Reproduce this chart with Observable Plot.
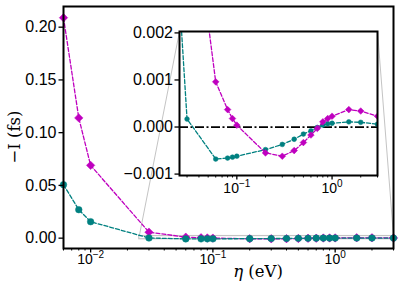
<!DOCTYPE html>
<html><head><meta charset="utf-8">
<script src="https://cdn.jsdelivr.net/npm/d3@7"></script>
<script src="https://cdn.jsdelivr.net/npm/@observablehq/plot@0.6"></script>
<style>
body{margin:0;background:#fff;}
#c{position:relative;width:399px;height:282px;}
#c svg{position:absolute;left:0;top:0;overflow:visible;}
</style></head><body><div id="c"></div>
<script>
// ---- data ----
const eta = [0.006,0.008,0.01,0.03,0.06,0.08,0.09,0.1,0.2,0.3,0.4,0.5,0.6,0.7,0.8,0.9,1.0,1.5,2,3];
const magentaVals = [0.209,0.114,0.069,0.0057,0.00096,0.00037,0.00018,0.00004,-0.00055,-0.00062,-0.0005,-0.00033,-0.00017,-0.00003,0.00011,0.00018,0.00023,0.00037,0.00034,0.00023];
const tealVals = [0.0507,0.027,0.0156,0.00017,-0.00068,-0.00066,-0.00064,-0.00062,-0.00048,-0.00037,-0.00026,-0.00015,-0.00008,-0.00001,0.00004,0.00007,0.00008,0.00011,0.0001,0.00006];
const mainYTicks = [0,0.05,0.10,0.15,0.20];
const mainXTicks = [0.01,0.1,1];
const mainXMinor = [0.006,0.007,0.008,0.009,0.02,0.03,0.04,0.05,0.06,0.07,0.08,0.09,0.2,0.3,0.4,0.5,0.6,0.7,0.8,0.9,2,3];
const insetYTicks = [-0.001,0,0.001,0.002];
const insetXTicks = [0.1,1];
const insetXMinor = [0.03,0.04,0.05,0.06,0.07,0.08,0.09,0.2,0.3,0.4,0.5,0.6,0.7,0.8,0.9,2,3];
const zoomBox = {x1:0.025, x2:3, y1:-0.001, y2:0.002};
const xLabel = "η";
const xUnit = " (eV)";
const yLabel = "−I (fs)";

// ---- layout ----
const W = 399, H = 282;
const MAG = "#bf00bf", TEAL = "#008080", GRAY = "#c4c4c4";
const mainMargin = {left:63, right:6, top:6, bottom:34};
const insetMargin = {left:179, right:W-377, top:31, bottom:H-175};
const mainXDomain = [0.006, 3], mainYDomain = [-0.0098, 0.2196];
const insetXDomain = [zoomBox.x1, zoomBox.x2], insetYDomain = [-0.00103, 0.00203];

const rows = eta.map((e,i)=>({eta:e, m:magentaVals[i], t:tealVals[i]}));

const sxMain = Plot.scale({x:{type:"log", domain:mainXDomain, range:[mainMargin.left, W-mainMargin.right]}});
const syMain = Plot.scale({y:{type:"linear", domain:mainYDomain, range:[H-mainMargin.bottom, mainMargin.top]}});
const sxIn = Plot.scale({x:{type:"log", domain:insetXDomain, range:[insetMargin.left, W-insetMargin.right]}});
const syIn = Plot.scale({y:{type:"linear", domain:insetYDomain, range:[H-insetMargin.bottom, insetMargin.top]}});

// connectors: inset top corners -> box top corners
const insetTop = syIn.apply(insetYDomain[1]);
const connectors = [
  {x1: zoomBox.x1, y1: zoomBox.y2, x2: sxMain.invert(sxIn.apply(insetXDomain[0])), y2: syMain.invert(insetTop)},
  {x1: zoomBox.x2, y1: zoomBox.y2, x2: sxMain.invert(sxIn.apply(insetXDomain[1])), y2: syMain.invert(insetTop)}
];

const expFmt = d => "10^" + Math.round(Math.log10(d));
const style = {background:"transparent", fontFamily:"'Liberation Sans', Arial, sans-serif", fontSize:"16px", overflow:"visible", color:"black"};
const dash = "4,2";

const main = Plot.plot({
  width:W, height:H,
  marginLeft:mainMargin.left, marginRight:mainMargin.right, marginTop:mainMargin.top, marginBottom:mainMargin.bottom,
  x:{type:"log", domain:mainXDomain},
  y:{domain:mainYDomain},
  style,
  marks:[
    Plot.rect([zoomBox], {x1:"x1", x2:"x2", y1:"y1", y2:"y2", fill:"none", stroke:GRAY, strokeWidth:1.2}),
    Plot.link(connectors, {x1:"x1", y1:"y1", x2:"x2", y2:"y2", stroke:GRAY, strokeWidth:1}),
    Plot.line(rows, {x:"eta", y:"m", stroke:MAG, strokeWidth:1.3, strokeDasharray:dash}),
    Plot.dot(rows, {x:"eta", y:"m", symbol:"diamond2", r:3.8, fill:MAG, stroke:MAG, strokeWidth:0.5}),
    Plot.line(rows, {x:"eta", y:"t", stroke:TEAL, strokeWidth:1.3, strokeDasharray:dash}),
    Plot.dot(rows, {x:"eta", y:"t", symbol:"circle", r:3.3, fill:TEAL, stroke:TEAL, strokeWidth:0.5}),
    Plot.axisY(mainYTicks, {anchor:"left", tickSize:4.5, tickPadding:2.5, tickFormat:d3.format(".2f"), fontSize:16, label:null, strokeWidth:1.3}),
    Plot.axisX(mainXTicks, {anchor:"bottom", tickSize:4.5, tickPadding:1.5, tickFormat:expFmt, fontSize:14, label:null, strokeWidth:1.3}),
    Plot.axisX(mainXMinor, {anchor:"bottom", tickSize:2.5, tickFormat:()=>"", label:null, strokeWidth:1}),
    Plot.frame({stroke:"black", strokeWidth:2})
  ]
});

const inset = Plot.plot({
  width:W, height:H,
  marginLeft:insetMargin.left, marginRight:insetMargin.right, marginTop:insetMargin.top, marginBottom:insetMargin.bottom,
  x:{type:"log", domain:insetXDomain},
  y:{domain:insetYDomain},
  style,
  marks:[
    Plot.frame({fill:"white", stroke:null}),
    Plot.ruleY([0], {stroke:"black", strokeWidth:1.8, strokeDasharray:"9,2.5,2,2.5"}),
    Plot.line(rows, {x:"eta", y:"t", stroke:TEAL, strokeWidth:1.3, strokeDasharray:dash, clip:true}),
    Plot.dot(rows, {x:"eta", y:"t", symbol:"circle", r:2.4, fill:TEAL, stroke:TEAL, strokeWidth:0.5, clip:true}),
    Plot.line(rows, {x:"eta", y:"m", stroke:MAG, strokeWidth:1.3, strokeDasharray:dash, clip:true}),
    Plot.dot(rows, {x:"eta", y:"m", symbol:"diamond2", r:3.0, fill:MAG, stroke:MAG, strokeWidth:0.5, clip:true}),
    Plot.axisY(insetYTicks, {anchor:"left", tickSize:4.5, tickPadding:2, tickFormat:d3.format(".3f"), fontSize:16, label:null, strokeWidth:1.3}),
    Plot.axisX(insetXTicks, {anchor:"bottom", tickSize:4.5, tickPadding:3, tickFormat:expFmt, fontSize:14, label:null, strokeWidth:1.3}),
    Plot.axisX(insetXMinor, {anchor:"bottom", tickSize:2.5, tickFormat:()=>"", label:null, strokeWidth:1}),
    Plot.frame({stroke:"black", strokeWidth:2})
  ]
});

const NS = "http://www.w3.org/2000/svg";
function superscripts(svg){
  svg.querySelectorAll("text").forEach(t => {
    const s = t.textContent;
    if (!s.includes("^")) return;
    const [b, e] = s.split("^");
    while (t.firstChild) t.removeChild(t.firstChild);
    const tb = document.createElementNS(NS, "tspan"); tb.textContent = b;
    const te = document.createElementNS(NS, "tspan"); te.textContent = e.replace("-", "−");
    te.setAttribute("dy", "-6"); te.setAttribute("font-size", "10");
    t.appendChild(tb); t.appendChild(te);
  });
}
superscripts(main); superscripts(inset);

// axis titles
const ms = d3.select(main);
const xt = ms.append("text").attr("x", 258).attr("y", 277).attr("text-anchor", "middle")
  .attr("font-family", "'DejaVu Serif', serif").attr("font-size", 16.5).attr("fill", "black");
xt.append("tspan").attr("font-style", "italic").text(xLabel);
xt.append("tspan").text(xUnit);
ms.append("text").attr("transform", "translate(14,137) rotate(-90)").attr("text-anchor", "middle")
  .attr("dy", "0.35em").attr("font-family", "'DejaVu Serif', serif").attr("font-size", 16.5).attr("fill", "black")
  .text(yLabel);

const c = document.getElementById("c");
c.appendChild(main);
c.appendChild(inset);
</script></body></html>
